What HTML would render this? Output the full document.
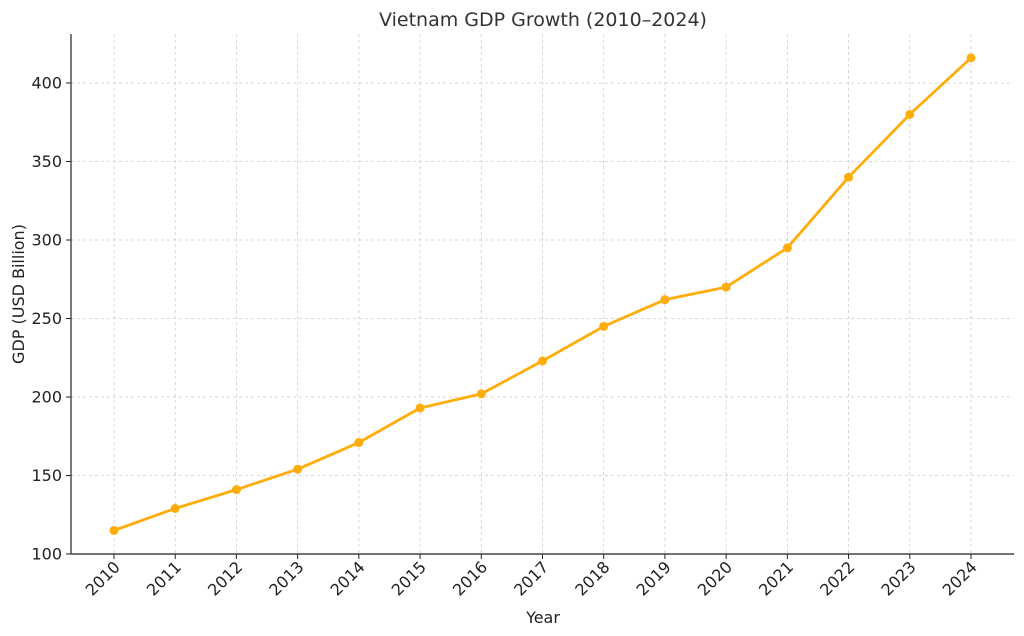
<!DOCTYPE html>
<html><head><meta charset="utf-8"><style>
body{margin:0;background:#fff;}
svg{display:block;font-family:"DejaVu Sans","Liberation Sans",sans-serif;}
</style></head><body>
<svg id="chart" width="1024" height="636" viewBox="0 0 1024 636">
<text x="543" y="26" text-anchor="middle" font-size="19" fill="#333">Vietnam GDP Growth (2010–2024)</text>
<g id="grid"></g>
<g id="axes"></g>
<g id="series"></g>
<text x="543" y="623" text-anchor="middle" font-size="16" fill="#222">Year</text>
<text transform="translate(24,294) rotate(-90)" text-anchor="middle" font-size="16" fill="#222">GDP (USD Billion)</text>
</svg>
<script>
const years = [2010,2011,2012,2013,2014,2015,2016,2017,2018,2019,2020,2021,2022,2023,2024];
const gdp = [115,129,141,154,171,193,202,223,245,262,270,295,340,380,416];
const yTicks = [100,150,200,250,300,350,400];
const NS = "http://www.w3.org/2000/svg";
const L=71,R=1014,T=34,B=554;
const yMin=100,yMax=100+(B-T)/1.57;
const x0=114,x1=971;
function xs(i){return x0+(x1-x0)*i/(years.length-1);}
function ys(v){return B-(v-yMin)/(yMax-yMin)*(B-T);}
function mk(tag,attrs,parent){const e=document.createElementNS(NS,tag);for(const k in attrs)e.setAttribute(k,attrs[k]);parent.appendChild(e);return e;}
const grid=document.getElementById('grid'),axes=document.getElementById('axes'),series=document.getElementById('series');
yTicks.forEach(v=>{
  const y=ys(v);
  const g=mk('line',{x1:L,x2:R,y1:y,y2:y,stroke:'#ccc','stroke-width':0.8,'stroke-dasharray':'3,3'},grid);
  
  
  mk('line',{x1:L-5,x2:L,y1:y,y2:y,stroke:'#222','stroke-width':1},axes);
  const t=mk('text',{x:L-9,y:y+5.5,'text-anchor':'end','font-size':16,fill:'#222'},axes);
  t.textContent=v;
  
  
});
years.forEach((yr,i)=>{
  const x=xs(i);
  const g=mk('line',{x1:x,x2:x,y1:T,y2:B,stroke:'#ccc','stroke-width':0.8,'stroke-dasharray':'3,3'},grid);
  
  
  mk('line',{x1:x,x2:x,y1:B,y2:B+5,stroke:'#222','stroke-width':1},axes);
  const t=mk('text',{'text-anchor':'end','font-size':16,fill:'#222',transform:`translate(${x+7},${568}) rotate(-45)`},axes);
  t.textContent=yr;
  
  
});
mk('line',{x1:L,x2:L,y1:T,y2:B,stroke:'#222','stroke-width':1.2},axes);
mk('line',{x1:L,x2:R,y1:B,y2:B,stroke:'#222','stroke-width':1.2},axes);
const pts=gdp.map((v,i)=>xs(i)+','+ys(v)).join(' ');
const pl=mk('polyline',{points:pts,fill:'none',stroke:'#ffad0a','stroke-width':2.8,'stroke-linejoin':'round'},series);


gdp.forEach((v,i)=>{
  const c=mk('circle',{cx:xs(i),cy:ys(v),r:4.5,fill:'#ffad0a'},series);
  
  
});
</script>
</body></html>
